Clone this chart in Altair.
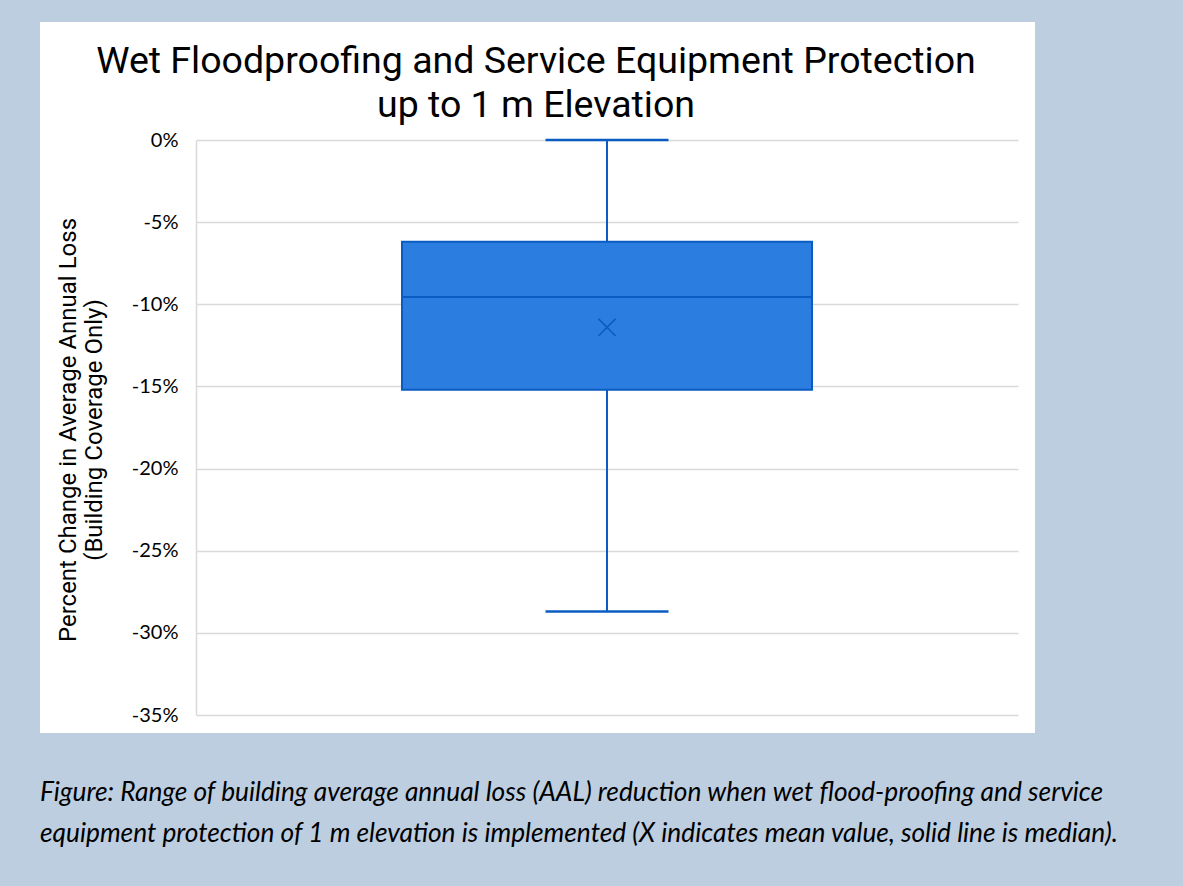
import altair as alt
import pandas as pd

# ---- data ----
categories = ["Wet Floodproofing"]
whisker_low = [-0.287]
q1 = [-0.152]
median = [-0.0955]
q3 = [-0.062]
whisker_high = [0.0]
mean = [-0.114]

y_ticks = [0.0, -0.05, -0.10, -0.15, -0.20, -0.25, -0.30, -0.35]

title_lines = ["Wet Floodproofing and Service Equipment Protection", "up to 1 m Elevation"]
y_title = ["Percent Change in Average Annual Loss", "(Building Coverage Only)"]
caption_lines = [
    "Figure: Range of building average annual loss (AAL) reduction when wet flood-proofing and service",
    "equipment protection of 1 m elevation is implemented (X indicates mean value, solid line is median).",
]

df = pd.DataFrame({
    "cat": categories, "low": whisker_low, "q1": q1, "median": median,
    "q3": q3, "high": whisker_high, "mean": mean,
})
one = pd.DataFrame({"k": [0]})

BOX_FILL = "#2B7DE0"
BOX_STROKE = "#0A5CC2"
PANEL_BG = "#BDCEE0"

W, H = 822, 575

xenc = alt.X("cat:N", axis=None, scale=alt.Scale(paddingOuter=0.5, paddingInner=0))
yscale = alt.Scale(domain=[-0.35, 0], nice=False, zero=False)
yaxis = alt.Axis(
    values=y_ticks, labelExpr="replace(format(datum.value, '.0%'), '\u2212', '-')",
    grid=True, gridColor="#D9D9D9", gridWidth=1.5,
    domain=True, domainColor="#D9D9D9", domainWidth=1.5, ticks=False, tickSize=0,
    labelPadding=18, labelFont="Lato", labelFontSize=20, labelColor="#000000",
    title=y_title, titleFont="Roboto", titleFontSize=24, titleFontWeight="normal",
    titleColor="#000000", titleAngle=270, titleX=-116, titleY=H / 2 + 2,
    titleAlign="center", titleBaseline="bottom", titleLineHeight=26,
)

base = alt.Chart(df)

whisker = base.mark_rule(color=BOX_STROKE, strokeWidth=2).encode(
    x=xenc, y=alt.Y("low:Q", scale=yscale, axis=yaxis), y2="high:Q"
)
box = base.mark_bar(size=410, fill=BOX_FILL, stroke=BOX_STROKE, strokeWidth=2).encode(
    x=xenc, y=alt.Y("q1:Q", scale=yscale), y2="q3:Q"
)
med = base.mark_tick(size=410, thickness=2, color=BOX_STROKE, opacity=1).encode(
    x=xenc, y=alt.Y("median:Q", scale=yscale)
)
cap_low = base.mark_tick(size=123, thickness=2.5, color=BOX_STROKE, opacity=1).encode(
    x=xenc, y=alt.Y("low:Q", scale=yscale)
)
cap_high = base.mark_tick(size=123, thickness=2.5, color=BOX_STROKE, opacity=1).encode(
    x=xenc, y=alt.Y("high:Q", scale=yscale)
)
mean_pt = base.mark_point(
    shape="M-1,-1L1,1M-1,1L1,-1", size=300, filled=False, stroke=BOX_STROKE,
    strokeWidth=1.5, opacity=1,
).encode(x=xenc, y=alt.Y("mean:Q", scale=yscale))

# decorative blue-grey frame around the white panel
def strip(x0, x1, y0, y1):
    return alt.Chart(one).mark_rect(color=PANEL_BG).encode(
        x=alt.value(x0), x2=alt.value(x1), y=alt.value(y0), y2=alt.value(y1)
    )

frame = (
    strip(-196, 987, -140, -118)
    + strip(-196, -156, -140, 746)
    + strip(839, 987, -140, 746)
    + strip(-196, 987, 593, 746)
)

def text_line(txt, x, y, **kw):
    return alt.Chart(one).mark_text(text=txt, **kw).encode(x=alt.value(x), y=alt.value(y))

title1 = text_line(title_lines[0], 340, -67, font="Roboto", fontSize=37.5, align="center",
                   baseline="alphabetic", color="#000000")
title2 = text_line(title_lines[1], 340, -23, font="Roboto", fontSize=37.5, align="center",
                   baseline="alphabetic", color="#000000")
cap1 = text_line(caption_lines[0], -156, 661, font="Lato", fontSize=26.3, fontStyle="italic",
                 align="left", baseline="alphabetic", color="#000000")
cap2 = text_line(caption_lines[1], -156, 702, font="Lato", fontSize=26.3, fontStyle="italic",
                 align="left", baseline="alphabetic", color="#000000")

chart = (
    alt.layer(whisker, box, med, cap_low, cap_high, mean_pt, frame, title1, title2, cap1, cap2)
    .properties(
        width=W, height=H, background="#FFFFFF",
        autosize=alt.AutoSizeParams(type="none"),
        padding={"left": 196, "top": 140, "right": 165, "bottom": 171},
    )
    .configure_view(stroke=None)
)

chart.save("out.html", embed_options={"renderer": "svg", "actions": False})
